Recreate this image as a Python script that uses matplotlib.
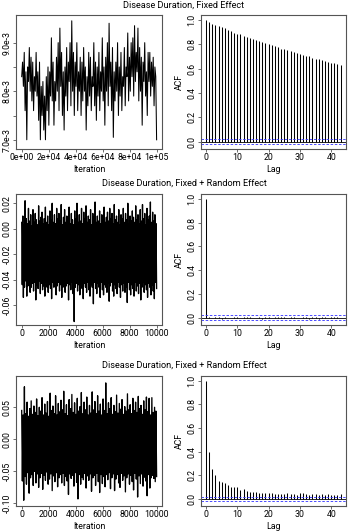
import numpy as np
import matplotlib
matplotlib.use("Agg")
import matplotlib.pyplot as plt

plt.rcParams['font.family'] = ['Roboto', 'DejaVu Sans']

# ---------------- data ----------------
titles = ["Disease Duration, Fixed Effect",
          "Disease Duration, Fixed + Random Effect",
          "Disease Duration, Fixed + Random Effect"]

# trace 1 (units of 1e-3), iterations 0 .. 1e5
trace1_e3 = [
    8.3, 8.6, 8.1, 8.8, 7.6, 8.4, 7.0, 8.5, 8.2, 8.9,
    8.0, 8.7, 7.8, 8.6, 7.6, 8.3, 8.0, 8.8, 7.9, 8.4,
    7.4, 8.6, 7.0, 8.1, 7.5, 8.2, 7.2, 7.9, 7.0, 8.3,
    7.6, 8.5, 7.3, 8.4, 7.9, 9.1, 7.8, 8.6, 7.3, 8.2,
    7.8, 8.7, 8.0, 9.0, 7.6, 9.3, 8.1, 8.8, 7.5, 8.4,
    7.2, 8.5, 7.9, 8.9, 7.6, 8.6, 8.2, 9.0, 7.7, 9.45,
    8.0, 8.8, 7.5, 8.6, 8.1, 9.0, 7.6, 8.4, 8.0, 8.7,
    7.5, 8.6, 7.8, 8.9, 8.0, 8.5, 7.2, 8.3, 7.7, 8.8,
    7.9, 8.7, 7.6, 8.3, 8.1, 9.0, 7.7, 8.6, 7.4, 8.5,
    7.9, 8.8, 7.6, 8.4, 8.0, 9.1, 7.8, 8.5, 7.3, 8.7,
    8.0, 9.0, 7.7, 9.4, 8.1, 8.6, 7.6, 8.9, 7.05, 8.4,
    7.8, 8.6, 8.0, 9.0, 7.5, 8.5, 7.9, 8.8, 7.6, 8.3,
    8.1, 8.9, 7.7, 8.5, 8.3, 9.2, 7.8, 8.7, 8.0, 9.0,
    8.3, 9.1, 7.9, 9.35, 8.2, 8.8, 8.4, 9.3, 7.8, 8.9,
    8.0, 8.7, 7.3, 8.6, 8.2, 9.0, 7.9, 8.4, 7.5, 8.8,
    8.2, 8.8, 7.9, 8.6, 8.1, 8.7, 7.7, 8.5, 8.3, 7.0,
]
n_iter1 = 100000

# trace 2 (units of 0.01), iterations 0 .. 10000
trace2_c = [
    0.5,-4.4,1.0,-5.4,0.3,-4.6,2.2,-4.1,0.8,-5.3,0.4,-4.5,1.6,-4.2,0.6,-5.0,1.1,-4.6,0.2,-4.3,
    1.5,-4.9,0.5,-4.2,1.2,-5.6,0.7,-4.4,0.3,-4.7,1.8,-4.1,0.6,-5.1,0.9,-4.3,1.3,-4.8,0.4,-4.5,
    0.8,-5.3,1.7,-4.2,0.5,-4.6,1.0,-5.0,0.3,-4.4,1.4,-4.7,0.7,-5.5,2.0,-4.2,0.5,-4.6,1.1,-4.3,
    0.4,-5.2,1.6,-4.5,0.8,-4.2,1.2,-4.9,0.6,-4.4,1.9,-5.4,0.3,-4.6,0.9,-4.2,1.5,-5.0,0.5,-4.5,
    1.0,-4.3,0.6,-5.6,1.7,-4.4,0.4,-4.8,1.2,-4.2,0.7,-5.1,0.3,-7.3,1.4,-4.6,0.8,-4.3,2.0,-4.9,
    0.5,-4.4,1.1,-5.2,0.6,-4.2,1.6,-4.7,0.4,-5.5,1.3,-4.3,0.8,-4.6,1.8,-5.0,0.5,-4.2,1.0,-4.8,
    0.7,-5.3,1.5,-4.4,0.3,-4.6,1.2,-5.9,0.9,-4.2,2.1,-4.7,0.5,-5.1,1.0,-4.3,0.6,-4.6,1.4,-5.4,
    0.4,-4.2,1.1,-4.8,0.7,-5.2,1.7,-4.4,0.5,-4.6,0.9,-5.0,1.3,-4.3,0.6,-5.7,1.6,-4.5,0.8,-4.2,
    1.2,-4.9,0.4,-5.3,1.9,-4.4,0.7,-4.7,1.0,-5.1,0.5,-4.2,1.5,-4.6,0.3,-5.4,1.1,-4.4,0.8,-4.9,
    1.6,-4.3,0.5,-5.0,1.2,-4.6,0.7,-5.8,2.0,-4.2,0.4,-4.8,1.0,-5.2,0.6,-4.4,1.4,-4.7,0.9,-5.3,
    0.5,-4.2,1.8,-4.9,0.7,-4.5,1.1,-5.1,0.4,-4.3,1.5,-5.6,0.6,-4.6,1.9,-4.2,0.8,-5.0,1.2,-4.4,
    0.3,-4.8,1.6,-5.4,0.7,-4.3,1.0,-4.6,2.1,-5.2,0.5,-4.4,1.3,-4.9,0.6,-5.5,1.1,-4.2,0.4,-4.7,
]
n_iter2 = 10000

# trace 3 (units of 0.01), iterations 0 .. 10000
trace3_c = [
    4.5,-6.5,3.8,-9.5,8.2,-5.8,4.0,-7.0,5.8,-5.2,3.6,-8.4,4.8,-6.0,6.0,-5.5,3.9,-7.2,5.2,-5.0,
    4.2,-6.8,6.3,-5.4,3.7,-7.5,5.0,-6.0,4.4,-5.3,6.5,-7.8,3.8,-5.6,5.5,-6.4,4.1,-5.1,5.9,-7.0,
    3.6,-6.2,7.2,-5.4,4.5,-8.0,5.2,-5.7,4.0,-6.6,6.8,-5.2,3.8,-7.4,5.6,-6.0,4.3,-5.5,6.1,-6.8,
    4.6,-5.3,7.5,-7.2,4.0,-5.8,5.4,-6.5,3.7,-8.6,6.2,-5.4,4.8,-6.1,7.0,-5.6,4.2,-7.3,5.7,-5.2,
    3.9,-6.7,6.4,-9.3,4.4,-5.5,5.1,-7.0,7.3,-5.9,4.0,-6.3,5.8,-5.3,4.6,-7.6,6.6,-5.7,3.8,-6.4,
    5.3,-5.4,4.1,-8.1,7.4,-6.0,4.6,-5.6,5.9,-7.2,4.0,-5.3,6.8,-6.6,4.4,-8.3,5.5,-5.5,3.8,-6.9,
    6.3,-5.8,4.5,-7.4,8.8,-5.5,4.0,-6.3,5.7,-5.2,4.8,-7.7,6.5,-6.0,3.9,-5.4,5.3,-8.0,4.3,-6.2,
    6.9,-5.5,4.1,-6.8,5.6,-7.5,4.7,-5.3,6.2,-6.4,3.9,-5.7,5.1,-8.2,4.4,-6.0,7.1,-5.4,4.6,-7.0,
    5.4,-5.6,4.0,-6.6,6.4,-7.9,4.5,-5.3,5.8,-6.2,4.2,-9.0,6.7,-5.7,4.8,-6.9,5.3,-5.4,3.9,-7.3,
    6.0,-5.9,4.6,-6.5,6.6,-8.8,4.3,-5.5,6.4,-7.6,3.8,-6.0,6.5,-5.6,4.2,-6.1,5.0,-6.6,4.4,-5.8,
]
n_iter3 = 10000

# ACFs, lags 0..43
acf1 = [1.0, 0.98, 0.97, 0.96, 0.95, 0.94, 0.93, 0.92, 0.91, 0.895, 0.885,
        0.88, 0.87, 0.86, 0.85, 0.845, 0.835, 0.825, 0.815, 0.81, 0.80,
        0.79, 0.785, 0.775, 0.765, 0.76, 0.75, 0.745, 0.735, 0.725, 0.72,
        0.715, 0.705, 0.70, 0.69, 0.68, 0.675, 0.67, 0.66, 0.655, 0.65,
        0.645, 0.635, 0.63]
acf2 = [1.0, 0.008, -0.004, 0.006, 0.003, -0.006, 0.005, 0.002, -0.003, 0.007, 0.004,
        -0.005, 0.006, 0.009, 0.003, -0.004, 0.002, 0.005, -0.006, 0.003, 0.004,
        -0.003, 0.008, 0.010, 0.007, 0.004, -0.005, 0.003, 0.006, -0.004, 0.002,
        0.005, 0.003, -0.006, 0.004, 0.007, -0.012, 0.003, 0.005, -0.004, 0.006,
        0.003, 0.004, -0.005]
acf3 = [1.0, 0.40, 0.25, 0.20, 0.155, 0.14, 0.135, 0.12, 0.10, 0.10, 0.10,
        0.075, 0.08, 0.065, 0.06, 0.055, 0.055, 0.05, 0.05, 0.05, 0.05,
        0.05, 0.045, 0.045, 0.04, 0.045, 0.05, 0.045, 0.04, 0.035, 0.05,
        0.05, 0.04, 0.035, 0.04, 0.04, 0.035, 0.04, 0.035, 0.04, 0.035,
        0.035, 0.03, 0.04]
acf_n = 10000

trace_xticks = [[0, 20000, 40000, 60000, 80000, 100000],
                [0, 2000, 4000, 6000, 8000, 10000],
                [0, 2000, 4000, 6000, 8000, 10000]]
trace_xticklabels = [["0e+00", "2e+04", "4e+04", "6e+04", "8e+04", "1e+05"],
                     ["0", "2000", "4000", "6000", "8000", "10000"],
                     ["0", "2000", "4000", "6000", "8000", "10000"]]
trace_yticks = [[7.0e-3, 7.5e-3, 8.0e-3, 8.5e-3, 9.0e-3],
                [-0.06, -0.04, -0.02, 0.00, 0.02],
                [-0.10, -0.05, 0.00, 0.05]]
trace_yticklabels = [["7.0e-3", "", "8.0e-3", "", "9.0e-3"],
                     ["-0.06", "-0.04", "-0.02", "0.00", "0.02"],
                     ["-0.10", "-0.05", "0.00", "0.05"]]
trace_ylims = [(6.81e-3, 9.57e-3), (-0.0757, 0.0273), (-0.104, 0.0988)]

acf_yticks = [0.0, 0.2, 0.4, 0.6, 0.8, 1.0]
acf_yticklabels = ["0.0", "0.2", "0.4", "0.6", "0.8", "1.0"]
acf_xticks = [0, 10, 20, 30, 40]

traces = [np.array(trace1_e3) * 1e-3, np.array(trace2_c) * 0.01, np.array(trace3_c) * 0.01]
niters = [n_iter1, n_iter2, n_iter3]
acfs = [acf1, acf2, acf3]
trace_lw = [0.75, 0.95, 0.95]

# ---------------- figure ----------------
W, H = 348, 532
fig = plt.figure(figsize=(W / 100, H / 100), dpi=100)
fig.patch.set_facecolor("white")

def rect(l, t, r, b):
    return [l / W, 1 - b / H, (r - l) / W, (b - t) / H]

rows = [(15, 149), (194, 325), (376, 506)]
title_y = [5, 183.5, 365]
FS = 6.3
TFS = 6.6
frame_col = "#555555"

def style(ax):
    for s in ax.spines.values():
        s.set_color(frame_col)
        s.set_linewidth(0.8)
    ax.tick_params(direction="out", length=2.2, width=0.6, color=frame_col,
                   labelsize=FS, pad=1.0)
    for lab in ax.get_yticklabels():
        lab.set_rotation(90)
        lab.set_va("center")

for i in range(3):
    t, b = rows[i]
    # trace
    ax = fig.add_axes(rect(16.3, t, 162, b))
    y = traces[i]
    x = np.linspace(0, niters[i], len(y))
    ax.plot(x, y, color="black", lw=trace_lw[i])
    pad = 0.04 * niters[i]
    ax.set_xlim(-pad, niters[i] + pad)
    ax.set_ylim(*trace_ylims[i])
    ax.set_xticks(trace_xticks[i])
    ax.set_xticklabels(trace_xticklabels[i])
    ax.set_yticks(trace_yticks[i])
    ax.set_yticklabels(trace_yticklabels[i])
    ax.set_xlabel("Iteration", fontsize=FS, labelpad=1.5)
    style(ax)

    # acf
    ax2 = fig.add_axes(rect(200.6, t, 346, b))
    a = np.array(acfs[i])
    lags = np.arange(len(a))
    ax2.vlines(lags, 0, a, color="black", lw=0.75)
    ax2.axhline(0, color="black", lw=0.6)
    ci = 2 / np.sqrt(acf_n)
    for c in (ci, -ci):
        ax2.axhline(c, color="#3030ff", lw=0.6, ls=(0, (3, 2)))
    ax2.set_xlim(-0.04 * 43, 43 * 1.04)
    ax2.set_ylim(-0.06, 1.04)
    ax2.set_xticks(acf_xticks)
    ax2.set_yticks(acf_yticks)
    ax2.set_yticklabels(acf_yticklabels)
    ax2.set_xlabel("Lag", fontsize=FS, labelpad=1.5)
    ax2.set_ylabel("ACF", fontsize=FS, labelpad=2)
    style(ax2)

    fig.text(184 / W, 1 - title_y[i] / H, titles[i], ha="center", va="center",
             fontsize=TFS)

fig.savefig("out.png", dpi=100)
